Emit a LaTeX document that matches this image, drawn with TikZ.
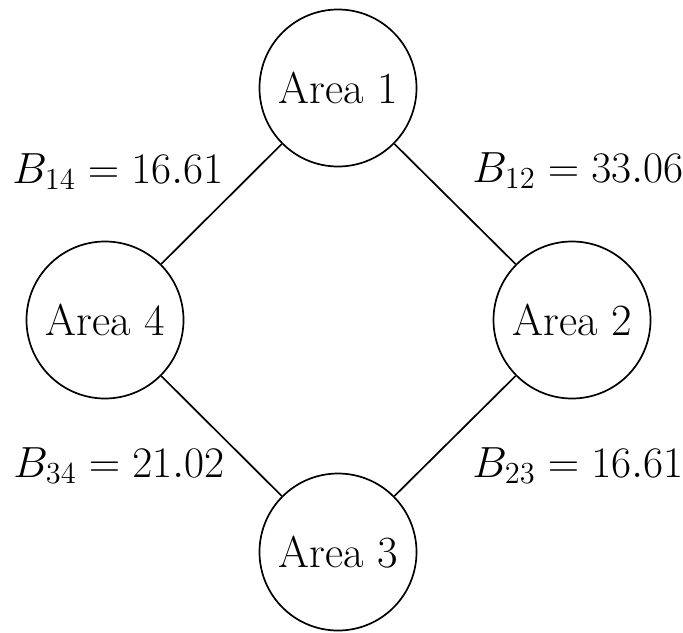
\RequirePackage{fix-cm}
\documentclass[tikz,border=0pt]{standalone}
\begin{document}
\begin{tikzpicture}[x=0.5pt,y=-0.5pt,
  area/.style={draw,circle,minimum size=78.5pt,inner sep=0pt,line width=0.85pt,font=\fontsize{22.3}{26}\selectfont},
  link/.style={line width=0.85pt},
  lbl/.style={font=\fontsize{21.8}{26}\selectfont,inner sep=0pt,anchor=base west}]
\useasboundingbox (0,0) rectangle (683,632);
\node[area] (a1) at (338,88) {Area 1};
\node[area] (a2) at (572,320) {Area 2};
\node[area] (a3) at (338,552) {Area 3};
\node[area] (a4) at (105,320) {Area 4};
\draw[link] (a1) -- (a4);
\draw[link] (a1) -- (a2);
\draw[link] (a3) -- (a4);
\draw[link] (a3) -- (a2);
\node[lbl] (l14) at (12,183) {$B_{14} = 16.61$};
\node[lbl] (l12) at (472,182) {$B_{12} = 33.06$};
\node[lbl] (l34) at (13,477) {$B_{34} = 21.02$};
\node[lbl] (l23) at (472,477) {$B_{23} = 16.61$};
\end{tikzpicture}
\end{document}
